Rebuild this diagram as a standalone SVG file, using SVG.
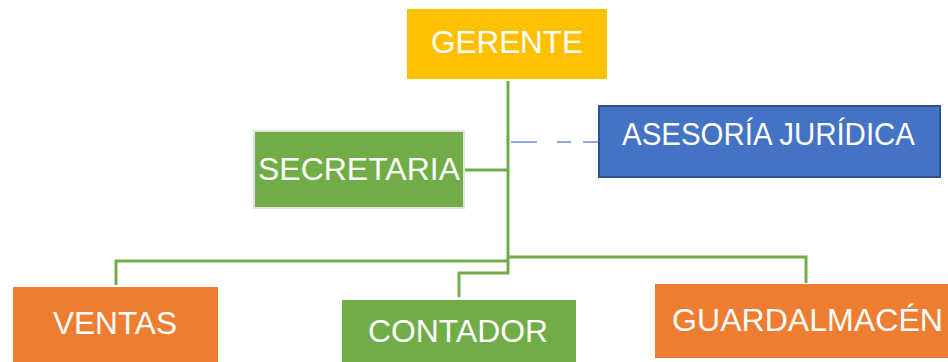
<svg xmlns="http://www.w3.org/2000/svg" width="948" height="362" viewBox="0 0 948 362">
<style>
.t{font-family:"Liberation Sans",Arial,sans-serif;font-size:31px;fill:#fff;text-anchor:middle}
.c{fill:none;stroke:#70AD47;stroke-width:3}
</style>
<rect width="948" height="362" fill="#fff"/>
<g id="connectors">
<path class="c" d="M508 81V273H459V297"/>
<path class="c" d="M464 170H508"/>
<path class="c" d="M508 261H116V285"/>
<path class="c" d="M508 257H806V283"/>
<path d="M511 142H598" fill="none" stroke="#6B8FD1" stroke-width="1.5" stroke-dasharray="26 20 14 12 16"/>
</g>
<g id="gerente">
<rect x="407" y="9" width="200" height="70" fill="#FFC000"/>
<text class="t" x="507" y="53" textLength="152" lengthAdjust="spacingAndGlyphs">GERENTE</text>
</g>
<g id="secretaria">
<rect x="254" y="131" width="210" height="77" fill="#70AD47" stroke="#E3E3E3" stroke-width="2"/>
<text class="t" x="359" y="180" textLength="202" lengthAdjust="spacingAndGlyphs">SECRETARIA</text>
</g>
<g id="asesoria">
<rect x="599" y="106" width="341" height="71" fill="#4472C4" stroke="#2F528F" stroke-width="2"/>
<text class="t" x="768.5" y="145" textLength="293" lengthAdjust="spacingAndGlyphs">ASESORÍA JURÍDICA</text>
</g>
<g id="ventas">
<rect x="13" y="287" width="205" height="75" fill="#ED7D31"/>
<text class="t" x="115" y="334" textLength="124" lengthAdjust="spacingAndGlyphs">VENTAS</text>
</g>
<g id="contador">
<rect x="342" y="300" width="234" height="62" fill="#70AD47"/>
<text class="t" x="458" y="342" textLength="180" lengthAdjust="spacingAndGlyphs">CONTADOR</text>
</g>
<g id="guardalmacen">
<rect x="655" y="284" width="293" height="74" fill="#ED7D31"/>
<text class="t" x="807.5" y="331" textLength="271" lengthAdjust="spacingAndGlyphs">GUARDALMACÉN</text>
</g>
</svg>
